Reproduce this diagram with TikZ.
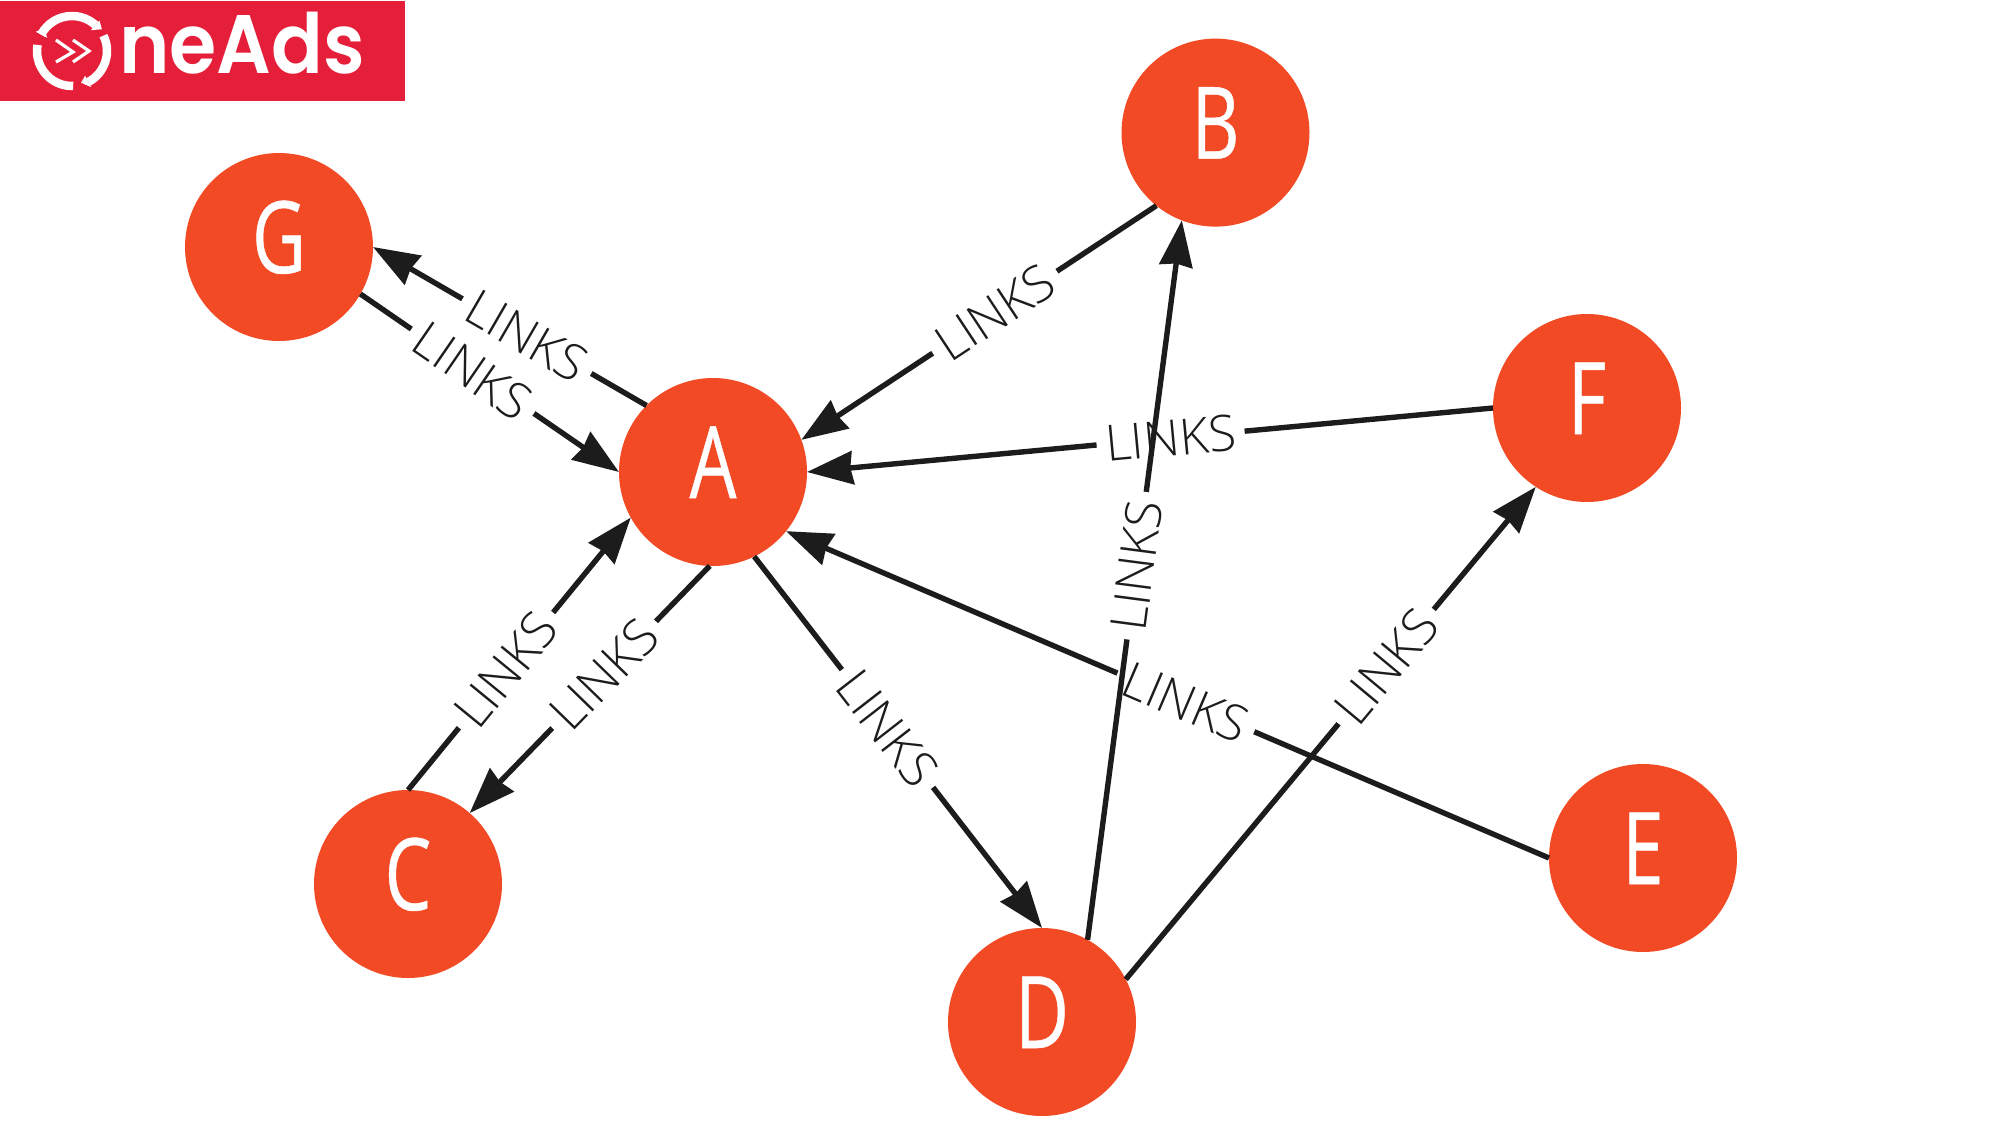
\documentclass[tikz,border=0pt]{standalone}
\usepackage{fontspec}
\usepackage{tikz}
\usetikzlibrary{arrows.meta}
\newfontfamily\letterfont[FakeStretch=0.74,FakeBold=0.5]{Open Sans}
\newfontfamily\linkfont{Open Sans Light}
\newfontfamily\logofont[FakeStretch=0.92]{Poppins SemiBold}
\definecolor{nodeorange}{HTML}{F24A25}
\definecolor{edgeink}{HTML}{1C1C1C}
\definecolor{logored}{HTML}{E51F3A}
\tikzset{
  gnode/.style={circle,fill=nodeorange,text=white,minimum size=188pt,inner sep=0pt,outer sep=0pt,font=\letterfont\fontsize{100}{100}\selectfont},
  edgeline/.style={draw=edgeink,line width=5.4pt,-{Stealth[length=46pt,width=33pt,inset=2.5pt]}},
  lab/.style={sloped,fill=white,text=edgeink,inner xsep=9pt,inner ysep=0pt,minimum height=34pt,font=\linkfont\fontsize{50}{50}\selectfont}
}
\newcommand{\letter}[1]{\raisebox{-26pt}[0pt][0pt]{#1}}
\begin{document}
\begin{tikzpicture}[x=1pt,y=-1pt]
\useasboundingbox (0,0) rectangle (2000,1125);
% logo
\fill[logored] (0,1) rectangle (405,101);
\node[anchor=base west,text=white,inner sep=0pt,font=\logofont\fontsize{83}{83}\selectfont] (logotext) at (119,73) {neAds};
\begin{scope}[shift={(72,51)},x=1pt,y=1pt,white]
  \draw[line width=8.5pt] (152:35) arc (152:48:35);
  \draw[line width=8.5pt] (26:35) arc (26:-62:35);
  \draw[line width=8.5pt] (170:35) arc (170:272:35);
  \fill (48:41) -- (48:28) -- (36:37) -- cycle;
  \fill (-62:41) -- (-62:28) -- (-74:33) -- cycle;
  \fill (152:41) -- (152:28) -- (141:36) -- cycle;
\end{scope}
\draw[white,line width=3.2pt] (56,40) -- (73,52) -- (56,62) (73,40) -- (89,51) -- (73,62);
% nodes
\node[gnode] (A) at (713,472) {\letter{A}};
\node[gnode] (B) at (1215.5,132.6) {\letter{B}};
\node[gnode] (G) at (279,247) {\letter{G}};
\node[gnode] (F) at (1587,408) {\letter{F}};
\node[gnode] (E) at (1643,858) {\letter{E}};
\node[gnode] (D) at (1042,1022) {\letter{D}};
\node[gnode] (C) at (408,884) {\letter{C}};
% edges
\draw[edgeline] (A.135) -- node[lab,pos=.4375] (l1) {LINKS} (G.0);
\draw[edgeline] (G.-30) -- node[lab,pos=.434] (l2) {LINKS} (A.180);
\draw[edgeline] (B.-129.7) -- node[lab,pos=.455] (l3) {LINKS} (A.20);
\draw[edgeline] (F.180) -- node[lab,pos=.47] (l4) {LINKS} (A.0);
\draw[edgeline] (E.180) -- node[lab,pos=.476] (l5) {LINKS} (A.-39.5);
\draw[edgeline] (A.-64.5) -- node[lab,pos=.463] (l6) {LINKS} (D.90);
\draw[edgeline] (A.-92) -- node[lab,pos=.44] (l7) {LINKS} (C.49);
\draw[edgeline] (C.90) -- node[lab,pos=.44] (l8) {LINKS} (A.209);
\draw[edgeline] (D.27.3) -- node[lab,pos=.635] (l9) {LINKS} (F.-123.5);
\draw[edgeline] (D.61.6) -- node[lab,pos=.52] (l10) {LINKS} (B.-111.5);
\end{tikzpicture}
\end{document}
